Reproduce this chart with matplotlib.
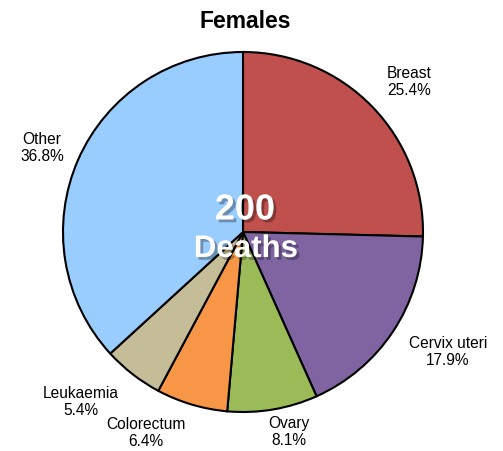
import matplotlib.pyplot as plt
import matplotlib.patheffects as pe

# data
sites = ['Breast', 'Cervix uteri', 'Ovary', 'Colorectum', 'Leukaemia', 'Other']
shares = [25.4, 17.9, 8.1, 6.4, 5.4, 36.8]
colors = ['#C0504D', '#8064A2', '#9BBB59', '#F79646', '#C4BD97', '#99CCFF']
total_deaths = 200

# label anchor points in image pixels (x, y from top) and alignment
label_xy = [(387, 82), (448, 352), (289, 432), (146, 433), (81, 402), (42, 148)]
label_ha = ['left', 'center', 'center', 'center', 'center', 'center']

plt.rcParams['font.family'] = ['Liberation Sans', 'DejaVu Sans']

W, H = 503, 451
fig = plt.figure(figsize=(W / 100, H / 100), dpi=100)
ax = fig.add_axes([0, 0, 1, 1])

wedges, _ = ax.pie(shares, colors=colors, startangle=90,
                   counterclock=False, center=(243, H - 232), radius=180,
                   wedgeprops=dict(edgecolor='black', linewidth=1.5))

for s, v, (x, y), ha in zip(sites, shares, label_xy, label_ha):
    ax.text(x, H - y, f'{s}\n{v:.1f}%', fontsize=11.2, ha=ha,
            va='center', multialignment=ha, linespacing=1.1)

ax.set_xlim(0, W)
ax.set_ylim(0, H)
ax.set_aspect('equal')
ax.axis('off')

shadow = [pe.SimplePatchShadow(offset=(2, -2), shadow_rgbFace='black', alpha=0.3), pe.Normal()]
ax.text(245, H - 210, str(total_deaths), color='white', fontsize=26,
        fontweight='bold', ha='center', va='center', path_effects=shadow)
ax.text(246, H - 249, 'Deaths', color='white', fontsize=22.5,
        fontweight='bold', ha='center', va='center', path_effects=shadow)

ax.text(245, H - 22, 'Females', fontsize=16.5, fontweight='bold',
        ha='center', va='center')

fig.savefig('out.png', dpi=100)
